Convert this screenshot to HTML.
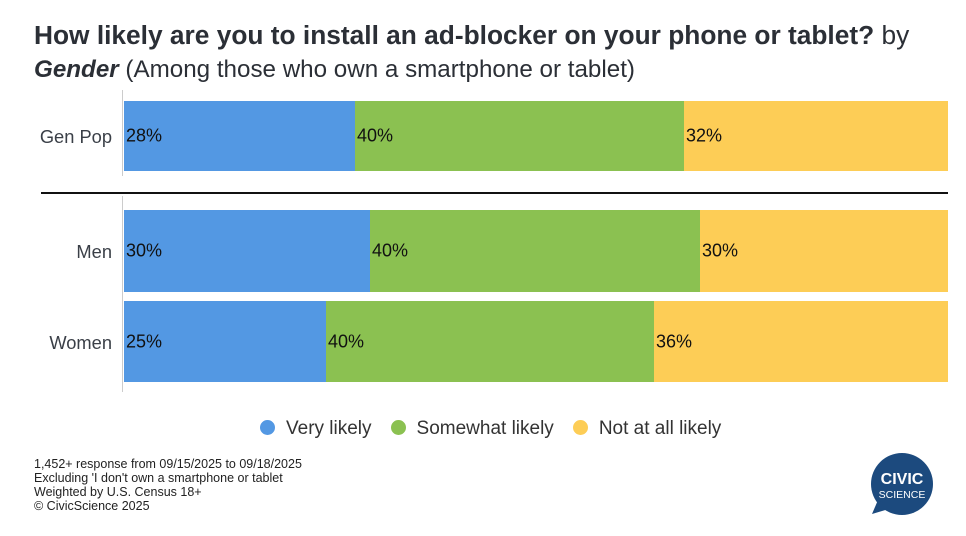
<!DOCTYPE html>
<html><head><style>
body{margin:0;width:966px;height:536px;background:#fff;font-family:"Liberation Sans",Arial,sans-serif;position:relative;overflow:hidden;color:#333}
.a{position:absolute}
.t{left:34px;top:19px;font-size:26.3px;line-height:33px;color:#2b2f36;white-space:nowrap}
.b{position:absolute;height:100%;top:0}
.lab{position:absolute;font-size:18px;color:#111;top:50%;transform:translateY(-50%)}
.cat{position:absolute;font-size:18.3px;color:#3a3f47;text-align:right;width:102px;left:10px}
.dot{display:inline-block;width:15px;height:15px;border-radius:50%;vertical-align:-1px;margin-right:11px}
</style></head><body>
<div class="a t"><b>How likely are you to install an ad-blocker on your phone or tablet?</b> by<br><span style="font-size:24.2px"><b><i>Gender</i></b> (Among those who own a smartphone or tablet)</span></div>
<div class="a" style="left:122px;top:90px;width:1px;height:86px;background:#ccc"></div>
<div class="a" style="left:122px;top:196px;width:1px;height:196px;background:#ccc"></div>
<div class="a" style="left:41px;top:192px;width:907px;height:2px;background:#111"></div>
<div class="cat a" style="top:126px">Gen Pop</div>
<div class="cat a" style="top:241px">Men</div>
<div class="cat a" style="top:332px">Women</div>
<div class="a" style="left:124px;top:101px;width:824px;height:70px">
<div class="b" style="left:0;width:231px;background:#5398e3"><span class="lab" style="left:2px">28%</span></div>
<div class="b" style="left:231px;width:329px;background:#8bc151"><span class="lab" style="left:2px">40%</span></div>
<div class="b" style="left:560px;width:264px;background:#fdcd56"><span class="lab" style="left:2px">32%</span></div></div>
<div class="a" style="left:124px;top:210px;width:824px;height:82px">
<div class="b" style="left:0;width:246px;background:#5398e3"><span class="lab" style="left:2px">30%</span></div>
<div class="b" style="left:246px;width:330px;background:#8bc151"><span class="lab" style="left:2px">40%</span></div>
<div class="b" style="left:576px;width:248px;background:#fdcd56"><span class="lab" style="left:2px">30%</span></div></div>
<div class="a" style="left:124px;top:301px;width:824px;height:81px">
<div class="b" style="left:0;width:202px;background:#5398e3"><span class="lab" style="left:2px">25%</span></div>
<div class="b" style="left:202px;width:328px;background:#8bc151"><span class="lab" style="left:2px">40%</span></div>
<div class="b" style="left:530px;width:294px;background:#fdcd56"><span class="lab" style="left:2px">36%</span></div></div>
<div class="a" style="left:260px;top:418px;font-size:19px;color:#333;white-space:nowrap">
<span class="dot" style="background:#5398e3"></span>Very likely<span style="display:inline-block;width:19px"></span><span class="dot" style="background:#8bc151"></span>Somewhat likely<span style="display:inline-block;width:19px"></span><span class="dot" style="background:#fdcd56"></span>Not at all likely</div>
<div class="a" style="left:34px;top:457px;font-size:12.5px;line-height:14px;color:#222">1,452+ response from 09/15/2025 to 09/18/2025<br>Excluding 'I don't own a smartphone or tablet<br>Weighted by U.S. Census 18+<br>© CivicScience 2025</div>
<svg class="a" style="left:860px;top:448px" width="90" height="80">
<circle cx="42" cy="36" r="31" fill="#1c4a7e"/>
<polygon points="18,52 12,66 32,60" fill="#1c4a7e"/>
<text x="42" y="36" text-anchor="middle" fill="#fff" font-size="16" font-weight="bold" font-family="Liberation Sans">CIVIC</text>
<text x="42" y="50" text-anchor="middle" fill="#fff" font-size="10.5" font-family="Liberation Sans">SCIENCE</text>
</svg>
</body></html>
